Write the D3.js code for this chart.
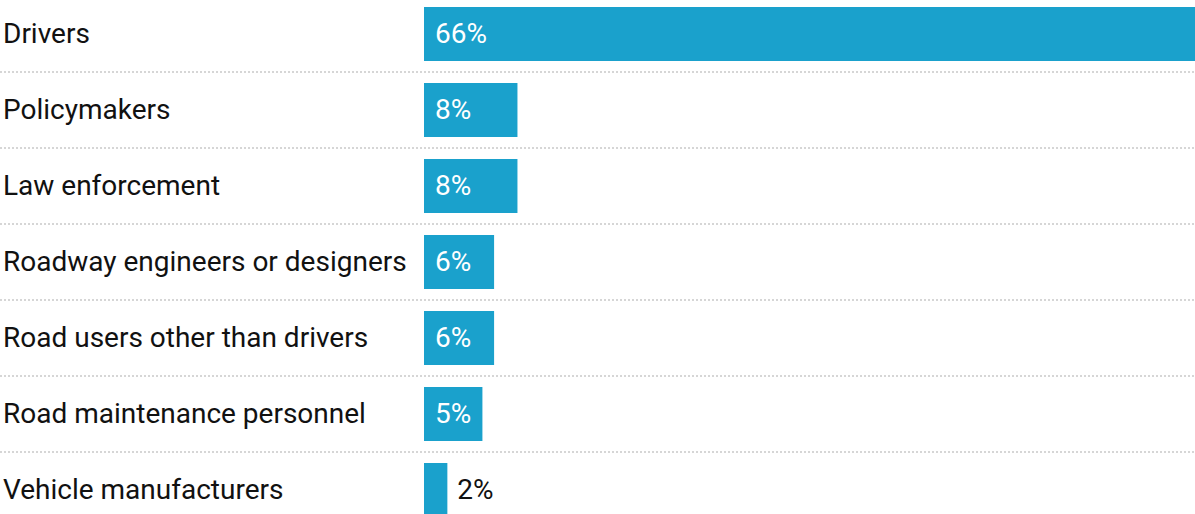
<!DOCTYPE html>
<html><head><meta charset="utf-8">
<script src="https://cdn.jsdelivr.net/npm/d3@7"></script>
<style>html,body{margin:0;padding:0;background:#fff;overflow:hidden}</style>
</head><body>
<svg id="c" width="1195" height="514"></svg>
<script>
const categories = ["Drivers","Policymakers","Law enforcement","Roadway engineers or designers","Road users other than drivers","Road maintenance personnel","Vehicle manufacturers"];
const values = [66,8,8,6,6,5,2];
const valueLabels = ["66%","8%","8%","6%","6%","5%","2%"];

const svg = d3.select("#c");
const W = 1195, H = 514;
const x0 = 424;
const x = d3.scaleLinear().domain([0,66]).range([x0, W]);
const y = d3.scaleBand().domain(categories).range([-4, 528]).paddingInner(22/76).paddingOuter(11/76);
const step = y.step();

// separators
svg.selectAll("line.sep").data(categories.slice(1)).enter().append("line")
  .attr("x1",0).attr("x2",W)
  .attr("y1",d=>y(d)-(step-y.bandwidth())/2).attr("y2",d=>y(d)-(step-y.bandwidth())/2)
  .attr("stroke","#d6d6d6").attr("stroke-width",2).attr("stroke-dasharray","2,2");

const font = "Roboto, sans-serif";
svg.selectAll("text.cat").data(categories).enter().append("text")
  .attr("x",3).attr("y",d=>y(d)+y.bandwidth()/2 - 1).attr("dy","0.35em")
  .attr("font-family",font).attr("font-size",28).attr("fill","#111").text(d=>d);

svg.selectAll("rect.bar").data(values).enter().append("rect")
  .attr("x",x(0)).attr("y",(d,i)=>y(categories[i]))
  .attr("width",d=>x(d)-x(0)).attr("height",y.bandwidth()).attr("fill","#1aa1cc");

svg.selectAll("text.val").data(values).enter().append("text")
  .attr("x",d=> (x(d)-x(0) > 50) ? x(0)+11 : x(d)+10)
  .attr("y",(d,i)=>y(categories[i])+y.bandwidth()/2 - 1).attr("dy","0.35em")
  .attr("font-family",font).attr("font-size",28)
  .attr("fill",d=> (x(d)-x(0) > 50) ? "#fff" : "#111")
  .text((d,i)=>valueLabels[i]);
</script>
</body></html>
